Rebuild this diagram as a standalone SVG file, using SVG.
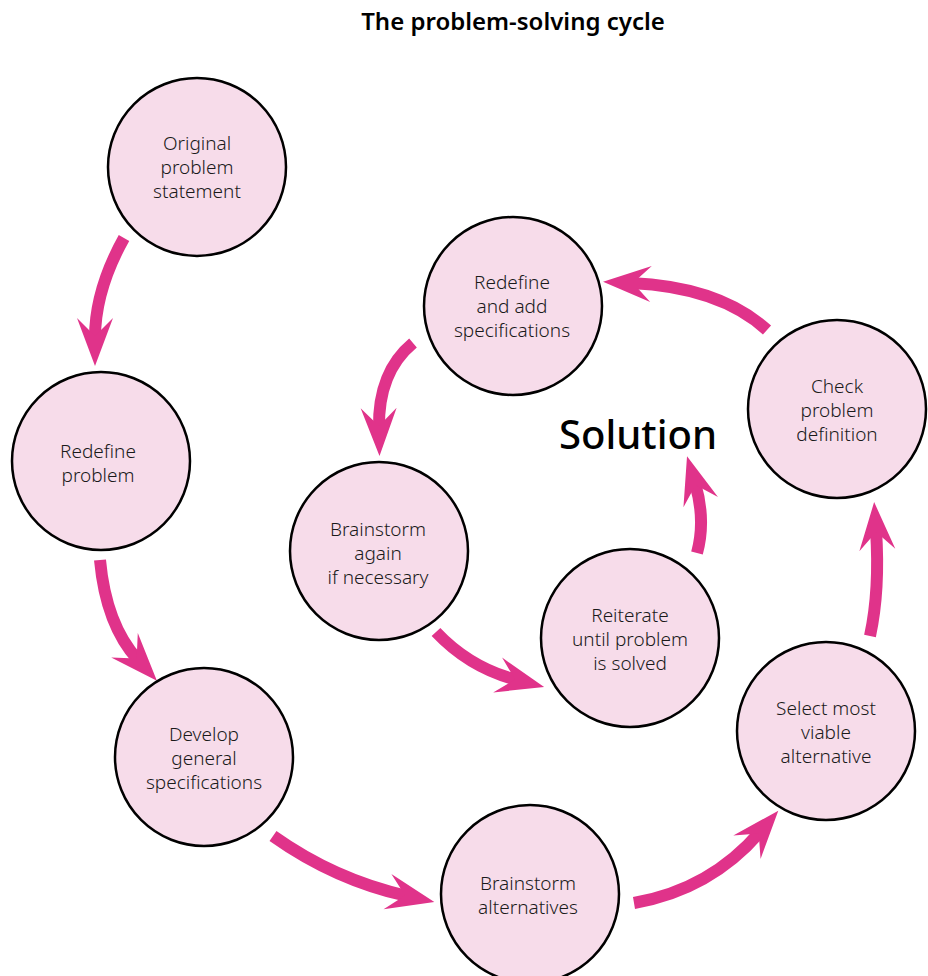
<svg xmlns="http://www.w3.org/2000/svg" width="928" height="976" viewBox="0 0 928 976">
<style>
.n circle{fill:#f7dcea;stroke:#000;stroke-width:2.5}
.n text{font-family:"Noto Sans","Liberation Sans",sans-serif;font-size:19px;font-weight:300;fill:#1a1a1a;text-anchor:middle}
.c path{fill:none;stroke:#e0338a;stroke-width:12;marker-end:url(#ah)}
.t{font-family:"Noto Sans","Liberation Sans",sans-serif;fill:#000;text-anchor:middle}
</style>
<defs>
<marker id="ah" markerUnits="userSpaceOnUse" viewBox="-22 -20 52 40" markerWidth="52" markerHeight="40" refX="0" refY="0" orient="auto" overflow="visible">
<path d="M28,0 L-20,-18 L-2,0 L-20,18 Z" fill="#e0338a"/>
</marker>
</defs>
<rect width="928" height="976" fill="#fff"/>
<text class="t" x="513" y="30" font-size="24" font-weight="600">The problem-solving cycle</text>
<text class="t" x="638" y="449" font-size="40" font-weight="500">Solution</text>
<g class="c" id="connectors">
<path d="M124,238 Q95,290 95,338"/>
<path d="M100,560 Q106,625 138,660"/>
<path d="M273,836 Q335,880 407,896"/>
<path d="M634,903 Q710,890 760,832"/>
<path d="M870,636 Q880,590 876,530"/>
<path d="M767,330 Q720,287 631,283"/>
<path d="M413,343 Q378,372 379,428"/>
<path d="M436,632 Q470,668 517,680"/>
<path d="M697,553 Q706,520 695,483"/>
</g>
<g class="n" id="n1"><circle cx="197" cy="167" r="89"/><text x="197" y="150">Original</text><text x="197" y="174">problem</text><text x="197" y="198">statement</text></g>
<g class="n" id="n2"><circle cx="101" cy="461" r="89"/><text x="98" y="458">Redefine</text><text x="98" y="482">problem</text></g>
<g class="n" id="n3"><circle cx="204" cy="757" r="89"/><text x="204" y="741">Develop</text><text x="204" y="765">general</text><text x="204" y="789">specifications</text></g>
<g class="n" id="n4"><circle cx="530" cy="894" r="89"/><text x="528" y="890">Brainstorm</text><text x="528" y="914">alternatives</text></g>
<g class="n" id="n5"><circle cx="826" cy="731" r="89"/><text x="826" y="715">Select most</text><text x="826" y="739">viable</text><text x="826" y="763">alternative</text></g>
<g class="n" id="n6"><circle cx="837" cy="409" r="89"/><text x="837" y="393">Check</text><text x="837" y="417">problem</text><text x="837" y="441">definition</text></g>
<g class="n" id="n7"><circle cx="513" cy="306" r="89"/><text x="512" y="289">Redefine</text><text x="512" y="313">and add</text><text x="512" y="337">specifications</text></g>
<g class="n" id="n8"><circle cx="379" cy="551" r="89"/><text x="378" y="536">Brainstorm</text><text x="378" y="560">again</text><text x="378" y="584">if necessary</text></g>
<g class="n" id="n9"><circle cx="630" cy="638" r="89"/><text x="630" y="622">Reiterate</text><text x="630" y="646">until problem</text><text x="630" y="670">is solved</text></g>
</svg>
